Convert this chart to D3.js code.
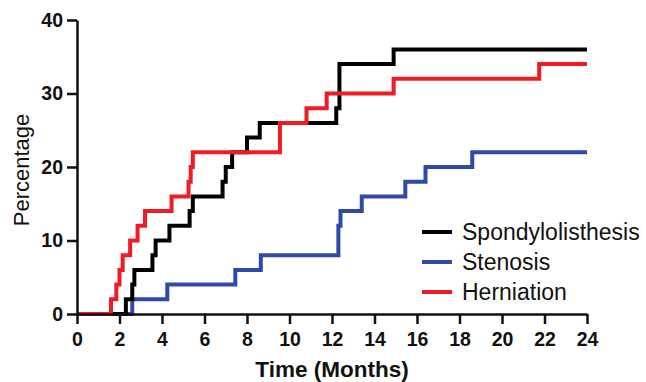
<!DOCTYPE html>
<html>
<head>
<meta charset="utf-8">
<script src="https://cdn.jsdelivr.net/npm/d3@7"></script>
<style>
  body { margin: 0; background: #fff; }
  svg { display: block; font-family: "Liberation Sans", Arial, sans-serif; }
</style>
</head>
<body>
<div id="chart"></div>
<script>
// Cumulative percentages, as [month, percent] steps
const spondylolisthesis = [[0,0],[2.3,2],[2.6,4],[2.7,6],[3.55,8],[3.7,10],[4.35,12],[5.3,14],[5.45,16],
  [6.85,18],[7.0,20],[7.3,22],[8.0,24],[8.6,26],[12.2,28],[12.35,34],[14.9,36],[24,36]];
const stenosis = [[0,0],[2.6,2],[4.25,4],[7.45,6],[8.65,8],[12.3,12],[12.4,14],[13.4,16],[15.45,18],
  [16.4,20],[18.6,22],[24,22]];
const herniation = [[0,0],[1.6,2],[1.85,4],[2.0,6],[2.15,8],[2.5,10],[2.85,12],[3.2,14],[4.45,16],
  [5.25,18],[5.35,20],[5.45,22],[9.55,26],[10.8,28],[11.75,30],[14.9,32],[21.75,34],[24,34]];

const seriesNames = ["Spondylolisthesis", "Stenosis", "Herniation"];
const seriesColors = ["#000000", "#3049a8", "#ee1c24"];
const xTicks = d3.range(0, 25, 2);
const yTicks = [0, 10, 20, 30, 40];

let width = 646;
let height = 382;
const margin = {top: 20, right: 59, bottom: 68, left: 77};

const svg = d3.select("#chart")
              .append("svg")
              .attr("width", width)
              .attr("height", height);

svg.append("rect").attr("width", width).attr("height", height).attr("fill", "#fff");

const x = d3.scaleLinear().domain([0, 24]).range([margin.left, width - margin.right]);
const y = d3.scaleLinear().domain([0, 40]).range([height - margin.bottom, margin.top]);

// step lines, drawn back to front
const line = d3.line()
               .x(d => x(d[0]))
               .y(d => y(d[1]))
               .curve(d3.curveStepAfter);

const allSeries = [spondylolisthesis, stenosis, herniation];
[1, 0, 2].forEach(function(i) {
  svg.append("path")
     .datum(allSeries[i])
     .attr("d", line)
     .attr("fill", "none")
     .attr("stroke", seriesColors[i])
     .attr("stroke-width", 4)
     .attr("stroke-linejoin", "miter");
});

// axes
const xAxis = svg.append("g")
   .attr("transform", "translate(0," + y(0) + ")")
   .call(d3.axisBottom(x).tickValues(xTicks).tickSize(10).tickSizeOuter(0).tickPadding(8));

const yAxis = svg.append("g")
   .attr("transform", "translate(" + x(0) + ",0)")
   .call(d3.axisLeft(y).tickValues(yTicks).tickSize(10).tickSizeOuter(0).tickPadding(4));

[xAxis, yAxis].forEach(function(a) {
  a.select(".domain").attr("stroke", "#111").attr("stroke-width", 2.5);
  a.selectAll(".tick line").attr("stroke", "#111").attr("stroke-width", 2.5);
  a.selectAll(".tick text")
   .attr("fill", "#111")
   .style("font-size", "19.5px")
   .style("font-weight", "bold")
   .style("font-family", "'Liberation Sans', Arial, sans-serif");
});

// axis titles
svg.append("text")
   .attr("x", 332)
   .attr("y", 377)
   .attr("text-anchor", "middle")
   .attr("fill", "#111")
   .style("font-size", "22.5px")
   .style("font-weight", "bold")
   .text("Time (Months)");

svg.append("text")
   .attr("transform", "translate(29,170) rotate(-90)")
   .attr("text-anchor", "middle")
   .attr("fill", "#111")
   .style("font-size", "22px")
   .text("Percentage");

// legend
const legend = svg.append("g").attr("transform", "translate(422,232)");
seriesNames.forEach(function(name, i) {
  legend.append("line")
        .attr("x1", 0).attr("x2", 30)
        .attr("y1", i * 30).attr("y2", i * 30)
        .attr("stroke", seriesColors[i])
        .attr("stroke-width", 4);
  legend.append("text")
        .attr("x", 40)
        .attr("y", i * 30 + 8)
        .attr("fill", "#111")
        .style("font-size", "23px")
        .text(name);
});
</script>
</body>
</html>
